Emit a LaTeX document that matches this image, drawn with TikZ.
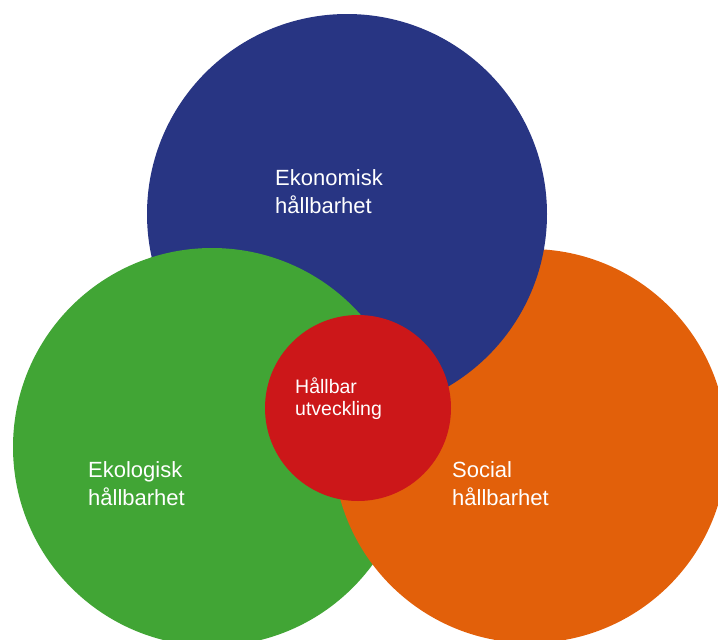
\documentclass[tikz,border=0pt]{standalone}
\usepackage{fontspec}
\setmainfont{Liberation Sans}
\definecolor{cblue}{RGB}{40,53,131}
\definecolor{cgreen}{RGB}{65,165,53}
\definecolor{corange}{RGB}{226,96,10}
\definecolor{cred}{RGB}{204,23,25}
\tikzset{
  biglabel/.style={text=white, anchor=base west, inner sep=0pt, font=\fontsize{22}{28}\selectfont},
  smalllabel/.style={text=white, anchor=base west, inner sep=0pt, font=\fontsize{19.5}{22}\selectfont},
}
\begin{document}
\begin{tikzpicture}[x=1pt,y=-1pt]
\useasboundingbox (0,0) rectangle (718,640);
\coordinate (B) at (347,214);
\coordinate (G) at (212,447);
\coordinate (O) at (530,446);
\coordinate (R) at (358,408);
\fill[cgreen] (G) circle[radius=199pt];
\fill[cblue] (B) circle[radius=200pt];
\fill[corange] (O) circle[radius=197pt];
\begin{scope}
  \clip (O) circle[radius=198.5pt];
  \fill[cblue] (B) circle[radius=200pt];
\end{scope}
\begin{scope}
  \clip (B) circle[radius=201.5pt];
  \fill[cgreen] (G) circle[radius=199pt];
\end{scope}
\fill[cred] (R) circle[radius=93pt];
\node[biglabel] (eko1) at (275,185) {Ekonomisk};
\node[biglabel] (eko2) at (275,213) {hållbarhet};
\node[biglabel] (ekl1) at (88,477) {Ekologisk};
\node[biglabel] (ekl2) at (88,505) {hållbarhet};
\node[biglabel] (soc1) at (452,477) {Social};
\node[biglabel] (soc2) at (452,505) {hållbarhet};
\node[smalllabel] (hu1) at (295,393) {Hållbar};
\node[smalllabel] (hu2) at (295,415) {utveckling};
\end{tikzpicture}
\end{document}
